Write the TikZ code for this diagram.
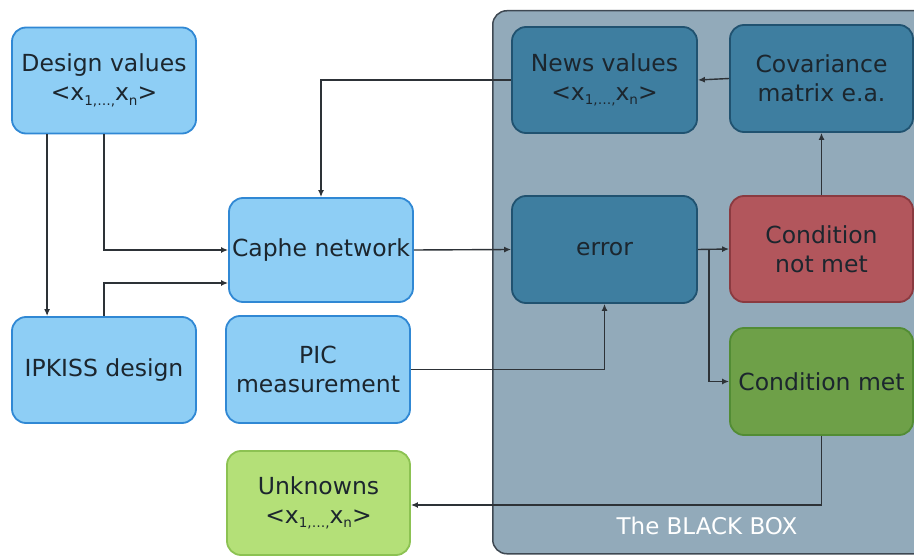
\documentclass[tikz,border=0pt]{standalone}
\usepackage{fontspec}
\setmainfont{DejaVu Sans}
\usetikzlibrary{arrows.meta,calc}
\definecolor{lbfill}{RGB}{142,206,245}
\definecolor{lbdraw}{RGB}{48,136,212}
\definecolor{dbfill}{RGB}{62,126,160}
\definecolor{dbdraw}{RGB}{32,82,112}
\definecolor{rdfill}{RGB}{178,86,92}
\definecolor{rddraw}{RGB}{138,58,64}
\definecolor{gnfill}{RGB}{110,160,72}
\definecolor{gndraw}{RGB}{82,140,52}
\definecolor{lgfill}{RGB}{180,224,120}
\definecolor{lgdraw}{RGB}{140,194,82}
\definecolor{bbfill}{RGB}{146,170,186}
\definecolor{bbdraw}{RGB}{62,72,82}
\definecolor{txt}{RGB}{28,38,46}
\definecolor{wire}{RGB}{45,50,55}
\newcommand{\xs}[1]{\raisebox{-0.35ex}{\fontsize{13.5}{13.5}\selectfont #1}}
\tikzset{
  box/.style={rounded corners=14pt, draw, line width=1.8pt, minimum width=184pt,
    minimum height=106pt, align=center, inner sep=0pt, text=txt,
    font=\fontsize{23.5}{29}\selectfont},
  lb/.style={box, fill=lbfill, draw=lbdraw},
  db/.style={box, fill=dbfill, draw=dbdraw},
  rd/.style={box, fill=rdfill, draw=rddraw},
  gn/.style={box, fill=gnfill, draw=gndraw},
  lg/.style={box, fill=lgfill, draw=lgdraw},
  arr/.style={draw=wire, line width=1.4pt, -{Latex[length=7pt,width=6pt]}},
}
\begin{document}
\begin{tikzpicture}[x=1pt,y=-1pt]
\useasboundingbox (0,0) rectangle (914,556);
% black box
\node[draw=bbdraw, fill=bbfill, line width=1.5pt, rounded corners=14pt,
  minimum width=440pt, minimum height=543pt, anchor=north west, inner sep=0pt]
  (bb) at (492,10) {};
\node[text=white, font=\fontsize{23}{27}\selectfont] (bbl) at (707,526) {The BLACK BOX};
% boxes
\node[lb] (dv) at (104,80.5) {Design values\\\textless x\xs{1,…,}x\xs{n}\textgreater};
\node[lb, minimum height=104pt] (caphe) at (321,250) {Caphe network};
\node[lb] (ipk) at (104,370) {IPKISS design};
\node[lb, minimum height=107pt] (pic) at (318,369.5) {PIC\\measurement};
\node[lg, minimum width=183pt, minimum height=104pt] (unk) at (318.5,503) {Unknowns\\\textless x\xs{1,…,}x\xs{n}\textgreater};
\node[db, minimum width=185pt] (news) at (604.5,80) {News values\\\textless x\xs{1,…,}x\xs{n}\textgreater};
\node[db, minimum width=183pt, minimum height=107pt] (cov) at (821.5,78.5) {Covariance\\matrix e.a.};
\node[db, minimum width=185pt, minimum height=107pt] (err) at (604.5,249.5) {error};
\node[rd, minimum width=183pt] (cnm) at (821.5,249) {Condition\\not met};
\node[gn, minimum width=183pt, minimum height=107pt] (cm) at (821.5,381.5) {Condition met};
% connectors
\draw[arr] ([xshift=36pt]dv.south west) -- ([xshift=36pt]ipk.north west);
\draw[arr] ([xshift=93pt]dv.south west) |- (caphe.west);
\draw[arr] ([xshift=93pt]ipk.north west) |- ([yshift=-33pt]caphe.west);
\draw[arr] (news.west) -| (caphe.north);
\draw[arr] (caphe.east) -- (err.west);
\draw[arr] (cov.west) -- (news.east);
\draw[arr] (cnm.north) -- (cov.south);
\draw[arr] (err.east) -- (cnm.west);
\coordinate (br) at ($(err.east)+(11,0)$);
\draw[arr] (br) |- (cm.west);
\draw[arr] (pic.east) -| (err.south);
\draw[arr] (cm.south) |- ([yshift=-2pt]unk.east);
\end{tikzpicture}
\end{document}
